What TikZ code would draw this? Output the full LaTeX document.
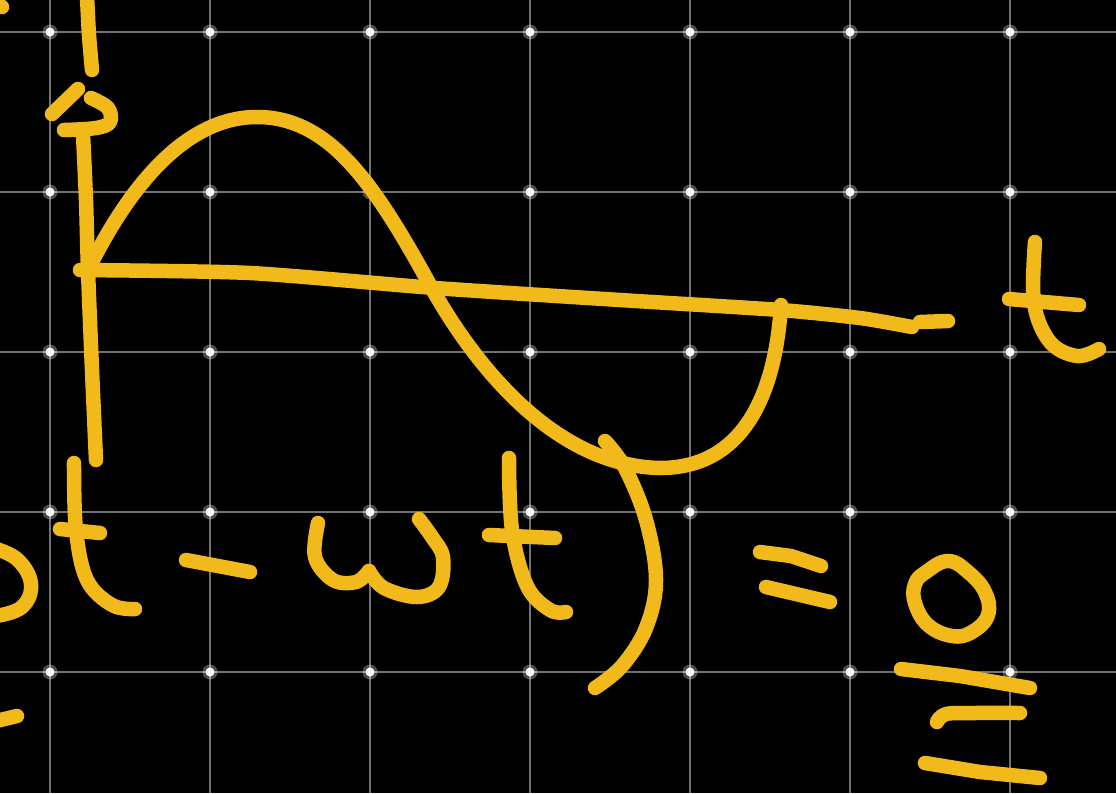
\documentclass[tikz,border=0pt]{standalone}
\begin{document}
\begin{tikzpicture}[x=1pt,y=-1pt,
  ink/.style={draw={rgb,255:red,242;green,185;blue,26}, line width=14.5pt, line cap=round, line join=round},
  gridline/.style={draw={rgb,255:red,115;green,115;blue,115}, line width=2.8pt},
  griddot/.style={fill=white}]
\fill[black] (0,0) rectangle (1116,793);
\useasboundingbox (0,0) rectangle (1116,793);
% grid
\foreach \x in {50,210,370,530,690,850,1010} \draw[gridline] (\x,0) -- (\x,793);
\foreach \y in {32,192,352,512,672} \draw[gridline] (0,\y) -- (1116,\y);
\foreach \x in {50,210,370,530,690,850,1010}
  \foreach \y in {32,192,352,512,672} {
    \fill[white,opacity=0.3] (\x,\y) circle (7.5);
    \fill[griddot] (\x,\y) circle (4.5);
  }
% tiny mark top-left
\draw[ink] (-2,4) -- (2,7);
% vertical axis (top piece)
\draw[ink] plot[smooth] coordinates {(87,-4) (89,35) (92,70)};
% arrow head
\draw[ink] (78,89) -- (52,114);
\draw[ink] plot[smooth, tension=0.6] coordinates {(91,98) (108,108) (110,122) (96,128) (64,130)};
% vertical axis
\draw[ink] plot[smooth] coordinates {(83,134) (86,200) (88,270) (92,370) (96,460)};
% horizontal axis
\draw[ink] plot[smooth, tension=0.4] coordinates {(80,270) (250,273) (435,288) (620,300) (780,310) (860,318) (912,327)};
\draw[ink] (920,322) -- (948,321);
% sine-like curve
\draw[ink] (92,262) .. controls (135,178) and (190,117) .. (257,117)
  .. controls (330,117) and (375,185) .. (430,285)
  .. controls (480,375) and (560,466) .. (660,468)
  .. controls (740,468) and (775,400) .. (781,305);
% closing parenthesis
\draw[ink] plot[smooth, tension=0.6] coordinates {(605,441) (625,468) (646,520) (656,580) (646,628) (622,666) (595,688)};
% partial o at left
\draw[ink] plot[smooth, tension=0.7] coordinates {(-4,549) (18,560) (31,584) (22,607) (-4,616)};
% t
\draw[ink] plot[smooth, tension=0.6] coordinates {(74,463) (76,530) (87,580) (112,605) (135,609)};
\draw[ink] (60,529) -- (100,533);
% minus
\draw[ink] (186,560) -- (250,572);
% omega
\draw[ink] plot[smooth, tension=0.6] coordinates {(318,523) (315,557) (333,580) (356,582) (369,571)};
\draw[ink] plot[smooth, tension=0.6] coordinates {(369,571) (384,588) (417,597) (439,587) (443,557) (432,537) (419,519)};
% t
\draw[ink] plot[smooth, tension=0.6] coordinates {(509,458) (512,530) (527,586) (550,610) (566,612)};
\draw[ink] (489,535) -- (555,538);
% bottom-left dash
\draw[ink] (-4,721) -- (17,716);
% equals
\draw[ink] (760,552) -- (791,556) -- (821,566);
\draw[ink] (766,587) -- (830,602);
% zero
\draw[ink] plot[smooth cycle, tension=0.7] coordinates {(926,572) (948,561) (968,572) (985,592) (988,615) (972,632) (952,636) (928,625) (915,603) (915,584)};
% equivalence sign below
\draw[ink] (901,669) -- (960,676) -- (1030,688);
\draw[ink] plot[smooth, tension=0.6] coordinates {(937,722) (946,714) (975,713) (1020,713)};
\draw[ink] (925,763) -- (980,772) -- (1040,778);
% t at right
\draw[ink] plot[smooth, tension=0.6] coordinates {(1035,242) (1034,303) (1050,342) (1077,356) (1099,349)};
\draw[ink] (1009,299) -- (1079,305);
\end{tikzpicture}
\end{document}
